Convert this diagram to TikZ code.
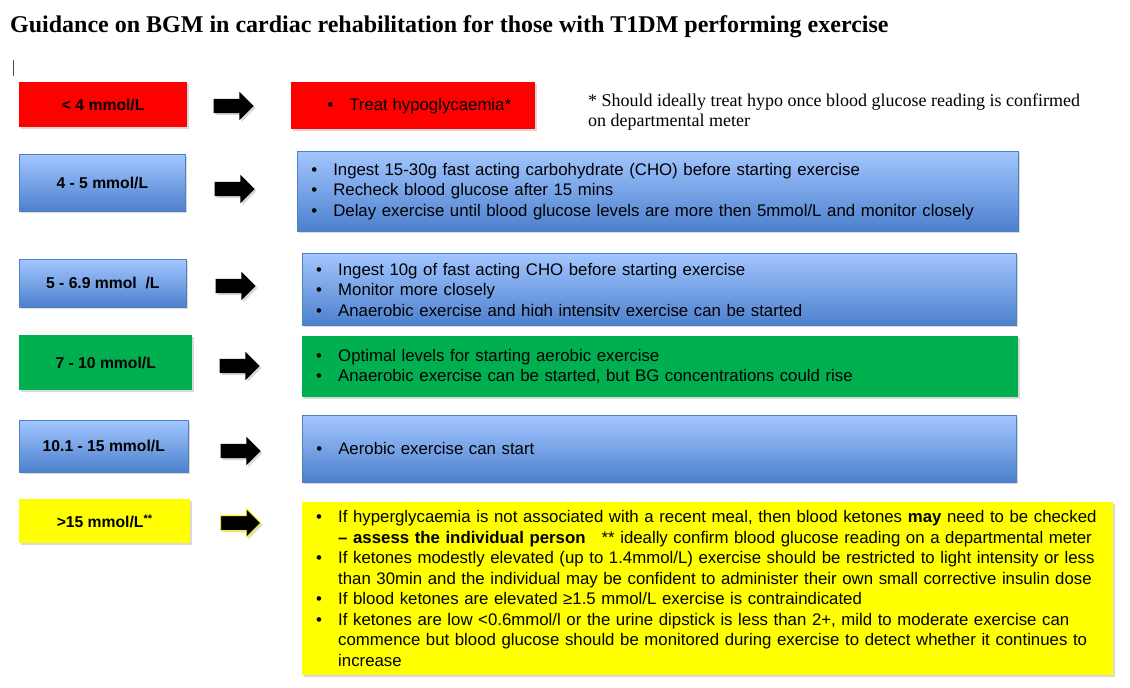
\documentclass[tikz,border=0pt]{standalone}
\usepackage{fontspec}
\setmainfont{Liberation Sans}
\newfontfamily\notefont{Liberation Serif}
\usetikzlibrary{shapes.arrows,shadows}
\definecolor{bgmred}{RGB}{255,0,0}
\definecolor{bgmgreen}{RGB}{0,176,80}
\definecolor{bgmyellow}{RGB}{255,255,0}
\definecolor{bgmbluetop}{RGB}{163,198,255}
\definecolor{bgmbluebot}{RGB}{76,128,205}
\definecolor{bgmblueline}{RGB}{79,129,189}
\newcommand{\bul}{\makebox[22pt][l]{\textbullet}}
\newcommand{\cont}{\hspace*{22pt}}
\tikzset{
  boxshadow/.style={drop shadow={shadow xshift=2pt,shadow yshift=-2pt,opacity=.3}},
  level/.style={boxshadow, anchor=north west, inner sep=0pt, align=center,
    font=\fontsize{15.7}{18}\selectfont\bfseries},
  advicetext/.style={anchor=north west, inner xsep=14pt, inner ysep=0pt,
    align=left, font=\fontsize{16.8}{20.5}\selectfont},
  advice/.style={boxshadow, advicetext},
  redbox/.style={fill=bgmred},
  bluebox/.style={top color=bgmbluetop, bottom color=bgmbluebot, draw=bgmblueline, line width=.6pt},
  greenbox/.style={fill=bgmgreen},
  yellowbox/.style={fill=bgmyellow},
  blockarrow/.style={boxshadow, single arrow, fill=black, inner sep=0pt, inner ysep=7pt,
    minimum height=40pt, minimum width=28pt, single arrow head extend=7pt}
}
\begin{document}
\begin{tikzpicture}[x=1pt,y=-1pt]
\useasboundingbox (0,0) rectangle (1130,688);
\node[anchor=west, inner sep=0pt, font=\notefont\bfseries\fontsize{24}{28}\selectfont] (title) at (10,27)
  {Guidance on BGM in cardiac rehabilitation for those with T1DM performing exercise};
\draw[black!70] (13,60) -- (13,76);
\node[anchor=west, inner sep=0pt, align=left, font=\notefont\fontsize{18}{20}\selectfont] (note) at (588,112)
  {* Should ideally treat hypo once blood glucose reading is confirmed\\on departmental meter};

% glucose levels
\node[level, redbox, minimum width=168pt, minimum height=45pt] (l1) at (19,82) {< 4 mmol/L};
\node[level, bluebox, minimum width=166pt, minimum height=57pt] (l2) at (19,154) {4 - 5 mmol/L};
\node[level, bluebox, minimum width=167pt, minimum height=48pt] (l3) at (19,259) {5 - 6.9 mmol\ \ /L};
\node[level, greenbox, minimum width=173pt, minimum height=55pt] (l4) at (19,335) {7 - 10 mmol/L};
\node[level, bluebox, minimum width=169pt, minimum height=52pt] (l5) at (19,420) {10.1 - 15 mmol/L};
\node[level, yellowbox, minimum width=171pt, minimum height=44pt] (l6) at (19,499) {>15 mmol/L\textsuperscript{**}};

\foreach \n/\x/\y in {1/230/106,2/231/189,3/232/286,4/236/366,5/237/451}
  \node[blockarrow] (a\n) at (\x,\y) {};
\node[blockarrow, draw=bgmyellow, line width=.8pt] (a6) at (237,523) {};

% what to do
\node[level, redbox, font=\fontsize{16.8}{20}\selectfont, minimum width=244pt, minimum height=47pt] (r1) at (291,82)
  {\hspace*{12pt}\bul Treat hypoglycaemia*};
\node[advice, bluebox, text width=693pt, minimum height=80pt] (r2) at (297,151)
  {\bul Ingest 15-30g fast acting carbohydrate (CHO) before starting exercise\\
   \bul Recheck blood glucose after 15 mins\\
   \bul Delay exercise until blood glucose levels are more then 5mmol/L and monitor closely};
\node[advice, bluebox, text width=686pt, minimum height=72pt] (r3) at (302,253) {};
\begin{scope}
  \clip (302,253) rectangle (1016,315);
  \node[advicetext, text width=686pt, minimum height=76pt] (r3text) at (302,253)
    {\bul Ingest 10g of fast acting CHO before starting exercise\\
     \bul Monitor more closely\\
     \bul Anaerobic exercise and high intensity exercise can be started};
\end{scope}
\node[advice, greenbox, text width=688pt, minimum height=61pt] (r4) at (302,336)
  {\bul Optimal levels for starting aerobic exercise\\
   \bul Anaerobic exercise can be started, but BG concentrations could rise};
\node[advice, bluebox, text width=686pt, minimum height=67pt] (r5) at (302,415)
  {\bul Aerobic exercise can start};
\node[advice, yellowbox, text width=783pt, minimum height=173pt] (r6) at (302,502)
  {\bul If hyperglycaemia is not associated with a recent meal, then blood ketones \textbf{may} need to be checked\\
   \cont\textbf{-- assess the individual person}\hspace{16pt}** ideally confirm blood glucose reading on a departmental meter\\
   \bul If ketones modestly elevated (up to 1.4mmol/L) exercise should be restricted to light intensity or less\\
   \cont than 30min and the individual may be confident to administer their own small corrective insulin dose\\
   \bul If blood ketones are elevated ≥1.5 mmol/L exercise is contraindicated\\
   \bul If ketones are low <0.6mmol/l or the urine dipstick is less than 2+, mild to moderate exercise can\\
   \cont commence but blood glucose should be monitored during exercise to detect whether it continues to\\
   \cont increase};
\end{tikzpicture}
\end{document}
